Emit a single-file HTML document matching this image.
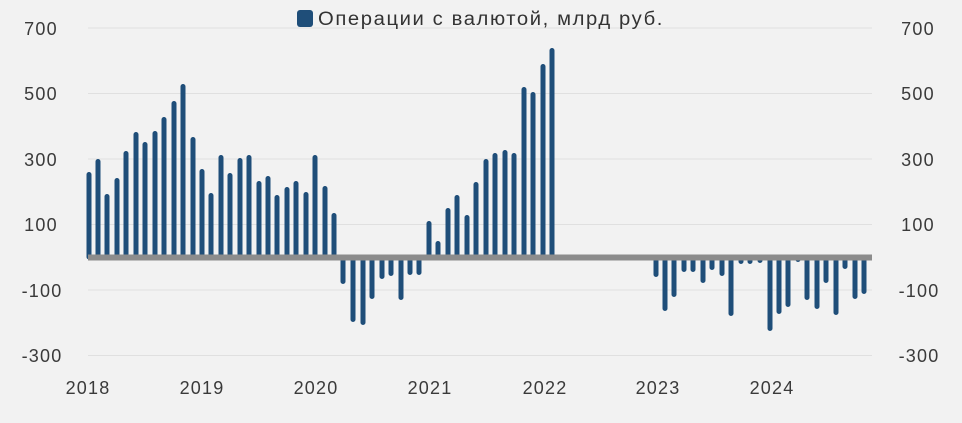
<!DOCTYPE html>
<html><head><meta charset="utf-8"><style>
html,body{margin:0;padding:0;background:#f2f2f2;}
svg{display:block;font-family:"Liberation Sans",sans-serif;}
</style></head><body>
<svg width="962" height="423" viewBox="0 0 962 423" xmlns="http://www.w3.org/2000/svg">
<rect width="962" height="423" fill="#f2f2f2"/>
<g stroke="#e0e0e0" stroke-width="1">
<line x1="88" x2="872" y1="28" y2="28"/>
<line x1="88" x2="872" y1="93.5" y2="93.5"/>
<line x1="88" x2="872" y1="159" y2="159"/>
<line x1="88" x2="872" y1="224.5" y2="224.5"/>
<line x1="88" x2="872" y1="290" y2="290"/>
<line x1="88" x2="872" y1="355.5" y2="355.5"/>
</g>
<g fill="#3a3a3a" font-size="18" letter-spacing="1.2" text-anchor="middle">
<text x="41" y="35">700</text><text x="41" y="100">500</text><text x="41" y="166">300</text><text x="41" y="231">100</text><text x="42" y="297">-100</text><text x="42" y="362">-300</text>
<text x="918" y="35">700</text><text x="918" y="100">500</text><text x="918" y="166">300</text><text x="918" y="231">100</text><text x="919" y="297">-100</text><text x="919" y="362">-300</text>
<text x="88" y="394">2018</text><text x="202" y="394">2019</text><text x="316" y="394">2020</text><text x="430" y="394">2021</text><text x="545" y="394">2022</text><text x="658" y="394">2023</text><text x="772" y="394">2024</text>
</g>
<g stroke="#1f4e79" stroke-width="5" stroke-linecap="round" fill="none">
<path d="M89 257V174.5M98 257V161.5M107 257V196.5M117 257V180.5M126 257V153.5M136 257V134.5M145 257V144.5M155 257V133.5M164 257V119.5M174 257V103.5M183 257V86.5M193 257V139.5M202 257V171.5M211 257V195.5M221 257V157.5M230 257V175.5M240 257V160.5M249 257V157.5M259 257V183.5M268 257V178.5M277 257V197.5M287 257V189.5M296 257V183.5M306 257V194.5M315 257V157.5M325 257V188.5M334 257V215.5"/>
<path d="M343 258V281.5M353 258V319.5M363 258V322.5M372 258V296.5M382 258V276.5M391 258V273.5M401 258V297.5M410 258V272.5M419 258V272.5"/>
<path d="M429 257V223.5M438 257V243.5M448 257V210.5M457 257V197.5M467 257V217.5M476 257V184.5M486 257V161.5M495 257V155.5M505 257V152.5M514 257V155.5M524 257V89.5M533 257V94.5M543 257V66.5M552 257V50.5"/>
<path d="M656 258V274.5M665 258V308.5M674 258V294.5M684 258V269.5M693 258V269.5M703 258V280.5M712 258V267.5M722 258V273.5M731 258V313.5M741 258V261.5M750 258V261.5M760 258V260.5M770 258V328.5M779 258V311.5M788 258V304.5M798 258V259.5M807 258V297.5M817 258V306.5M826 258V280.5M836 258V312.5M845 258V266.5M855 258V296.5M864 258V291.5"/>
</g>
<rect x="88" y="254.5" width="784" height="6" fill="#8c8c8c"/>
<rect x="297" y="10" width="16" height="17" rx="3" fill="#1f4e79"/>
<text x="318" y="25" font-size="19" letter-spacing="1.5" fill="#333" textLength="346" lengthAdjust="spacingAndGlyphs">Операции с валютой, млрд руб.</text>
</svg>
</body></html>
